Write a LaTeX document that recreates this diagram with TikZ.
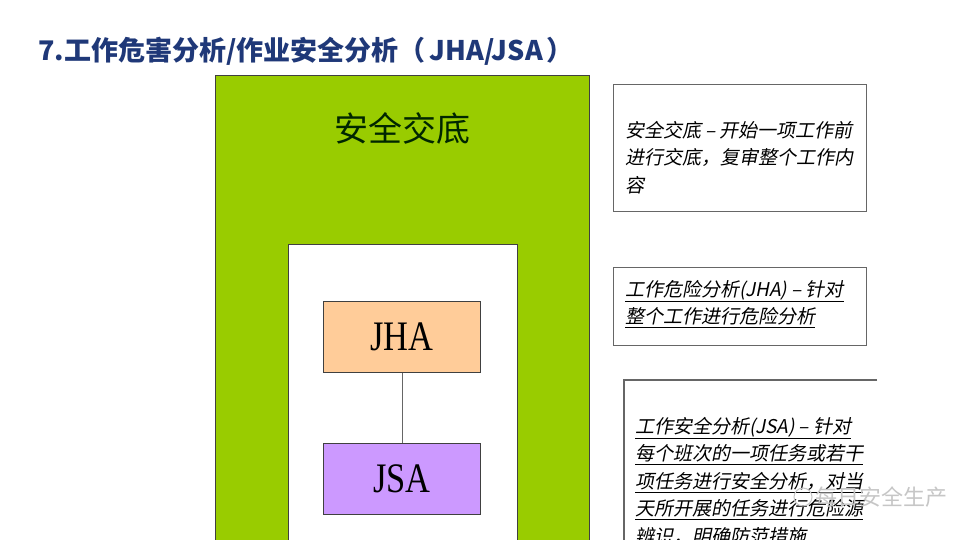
\documentclass[tikz,border=0pt]{standalone}
\usepackage{fontspec}
\setmainfont{Liberation Serif}
\newfontfamily\cjk{Noto Sans CJK SC}
\newfontfamily\cjkit{Noto Sans CJK SC}[FakeSlant=0.2]
\newfontfamily\lsf{Liberation Serif}[FakeStretch=0.82]
\definecolor{titleblue}{RGB}{31,56,120}
\definecolor{leafgreen}{RGB}{153,204,0}
\definecolor{peach}{RGB}{255,204,153}
\definecolor{lilac}{RGB}{204,153,255}
\begin{document}
\begin{tikzpicture}[x=1pt,y=-1pt,
  box/.style={draw=black!75, line width=0.8pt, inner sep=0pt, anchor=north west},
  labelbox/.style={box, minimum width=157, minimum height=71, font=\lsf\fontsize{42}{44}\selectfont},
  note/.style={draw=black!60, line width=1.2pt, fill=white, anchor=north west, inner sep=0pt},
  notetext/.style={anchor=north west, inner sep=0pt, align=left, font=\cjkit\fontsize{19}{27.5}\selectfont},
  ]
\useasboundingbox (0,0) rectangle (960,540);
\clip (0,0) rectangle (960,540);
\fill[white] (0,0) rectangle (960,540);
% title
\node[anchor=base west, inner sep=0pt, text=titleblue, font=\cjk\bfseries\fontsize{27}{30}\selectfont] (title) at (38,61) {7.工作危害分析/作业安全分析（\hspace{4pt}JHA/JSA\hspace{4pt}）};
% nested frames
\node[box, fill=leafgreen, minimum width=374, minimum height=500] (outer) at (215,75) {};
\node[font=\cjk\fontsize{34}{40}\selectfont, text=black!85!green, inner sep=0pt] (outertitle) at (402,128) {安全交底};
\node[box, fill=white, minimum width=229, minimum height=330] (inner) at (288,244) {};
\node[labelbox, fill=peach] (jha) at (323,301) {JHA};
\node[labelbox, fill=lilac] (jsa) at (323,443) {JSA};
\draw[black!60, line width=0.8pt] (jha.south) -- (jsa.north);
% notes
\node[note, minimum width=253, minimum height=127] (n1) at (613,84) {};
\node[notetext] (n1t) at (625,121) {安全交底 – 开始一项工作前\\进行交底，复审整个工作内\\容};
\node[note, minimum width=253, minimum height=78] (n2) at (613,267) {};
\node[notetext] (n2t) at (625,280) {\underline{工作危险分析(JHA) – 针对}\\\underline{整个工作进行危险分析}};
\coordinate (n3tr) at (877,380);
\coordinate (n3tl) at (624,380);
\coordinate (n3bl) at (624,560);
\draw[black!60, line width=1.2pt] (n3tr) -- (n3tl) -- (n3bl);
\node[notetext] (n3t) at (635,417) {\underline{工作安全分析(JSA) – 针对}\\\underline{每个班次的一项任务或若干}\\\underline{项任务进行安全分析，对当}\\\underline{天所开展的任务进行危险源}\\\underline{辨识，明确防范措施}};
% watermark
\node[draw=gray!45, line width=1pt, circle, minimum size=18, inner sep=0pt] (wmlogo) at (803,497) {};
\node[anchor=west, inner sep=0pt, text=gray!45, font=\cjk\fontsize{22}{24}\selectfont] (wm) at (815,497) {每日安全生产};
\end{tikzpicture}
\end{document}
